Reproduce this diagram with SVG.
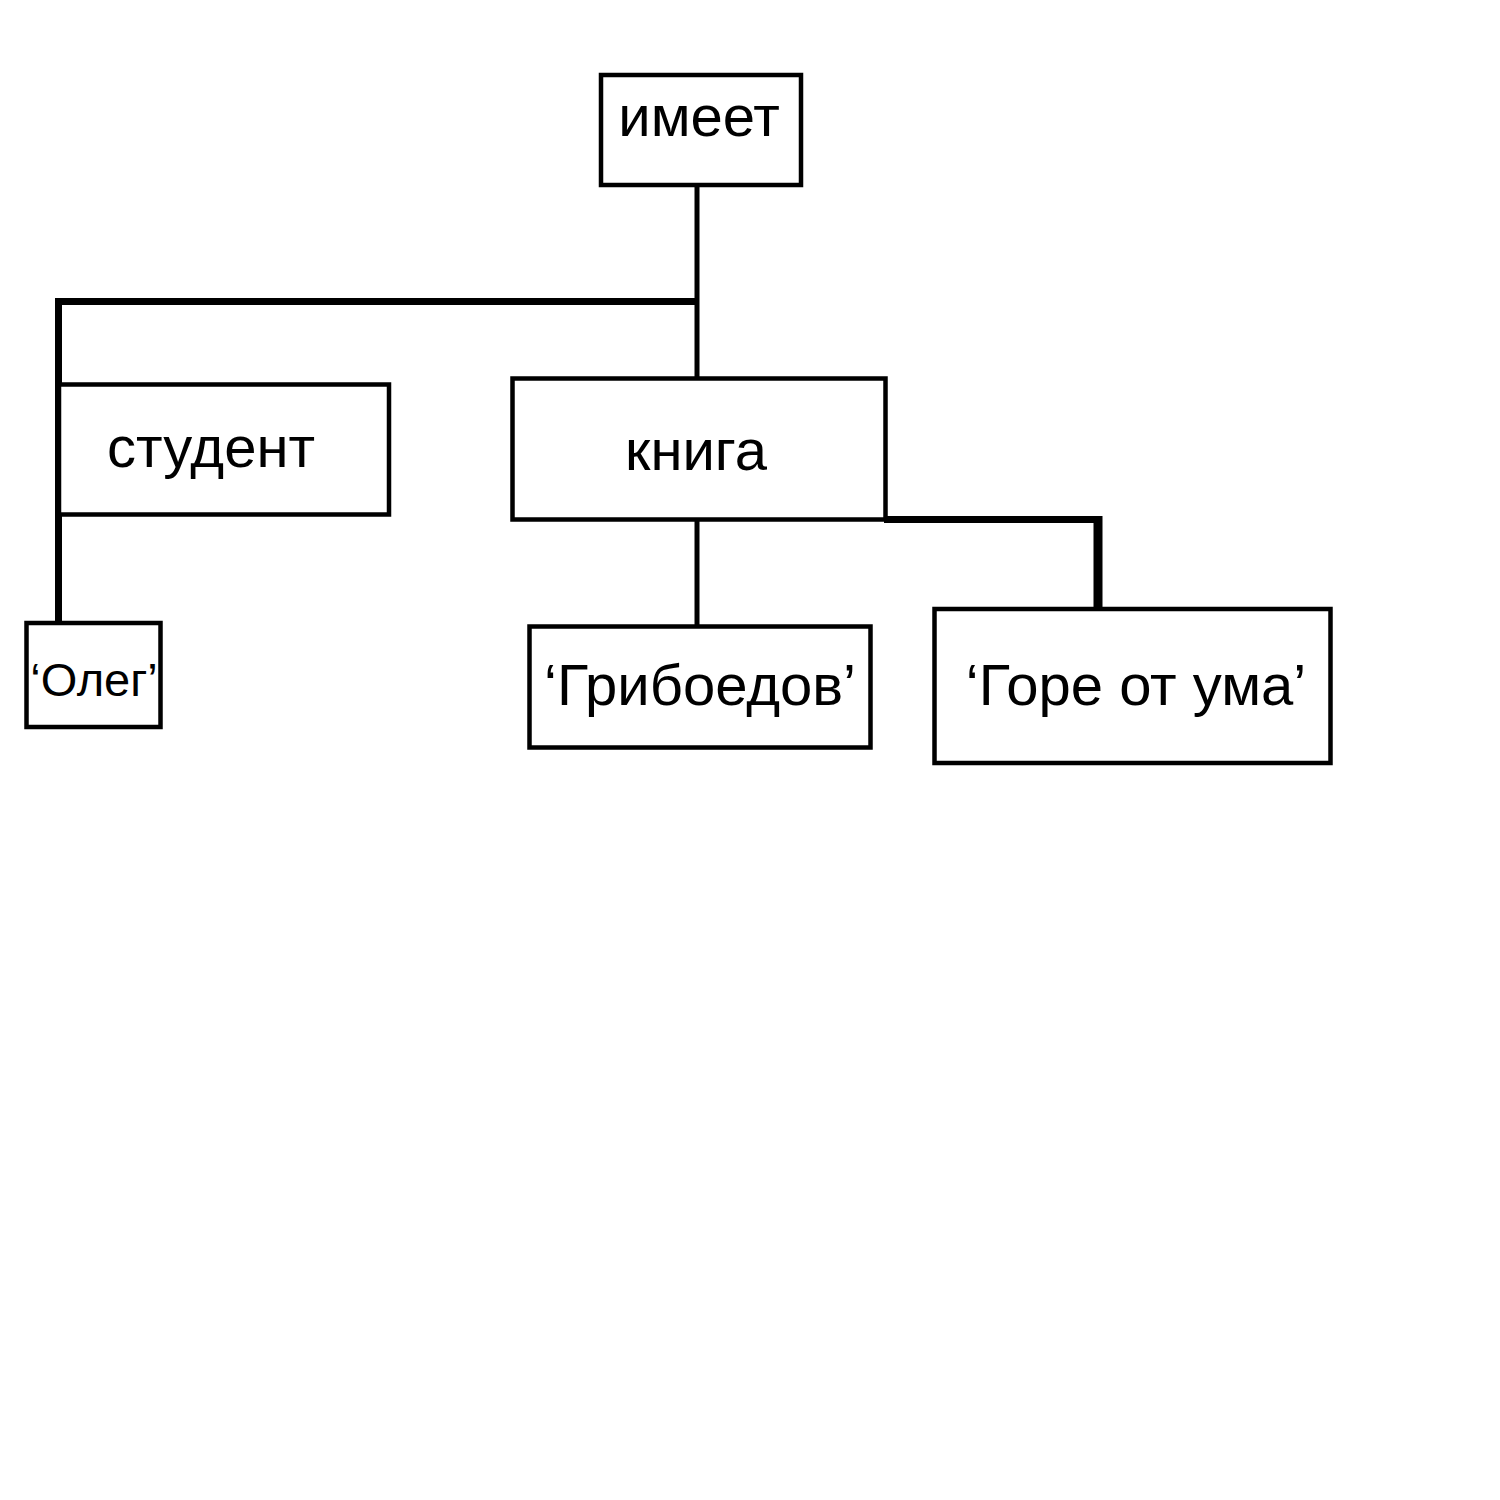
<svg xmlns="http://www.w3.org/2000/svg" width="1500" height="1500" viewBox="0 0 1500 1500">
<style>
.box{fill:#fff;stroke:#000;stroke-width:4.5}
.t{font-family:"Liberation Sans",Arial,sans-serif;font-size:58px;fill:#000;text-anchor:middle}
.c{stroke:#000;fill:none;stroke-linecap:butt}
</style>
<rect width="1500" height="1500" fill="#fff"/>
<g id="connectors">
<line class="c" x1="697" y1="185" x2="697" y2="378" stroke-width="5"/>
<line class="c" x1="55" y1="301.5" x2="699" y2="301.5" stroke-width="7"/>
<line class="c" x1="58.5" y1="298" x2="58.5" y2="622" stroke-width="7"/>
<line class="c" x1="697" y1="520" x2="697" y2="627" stroke-width="5"/>
<line class="c" x1="884" y1="519.5" x2="1102" y2="519.5" stroke-width="7"/>
<line class="c" x1="1098" y1="516" x2="1098" y2="608" stroke-width="9"/>
</g>
<g id="node-imeet">
<rect class="box" x="601" y="75" width="200" height="110"/>
<text class="t" x="699" y="136">имеет</text>
</g>
<g id="node-student">
<rect class="box" x="59" y="384.5" width="330" height="130"/>
<text class="t" x="211" y="467">студент</text>
</g>
<g id="node-kniga">
<rect class="box" x="512.5" y="378.5" width="373" height="141"/>
<text class="t" x="696" y="470">книга</text>
</g>
<g id="node-oleg">
<rect class="box" x="26.5" y="623" width="134" height="104"/>
<text class="t" x="94" y="696" style="font-size:47px">‘Олег’</text>
</g>
<g id="node-griboedov">
<rect class="box" x="529.5" y="626.5" width="341" height="121"/>
<text class="t" x="700" y="705">‘Грибоедов’</text>
</g>
<g id="node-gore">
<rect class="box" x="934.5" y="609" width="396" height="154"/>
<text class="t" x="1136" y="705">‘Горе от ума’</text>
</g>
</svg>
